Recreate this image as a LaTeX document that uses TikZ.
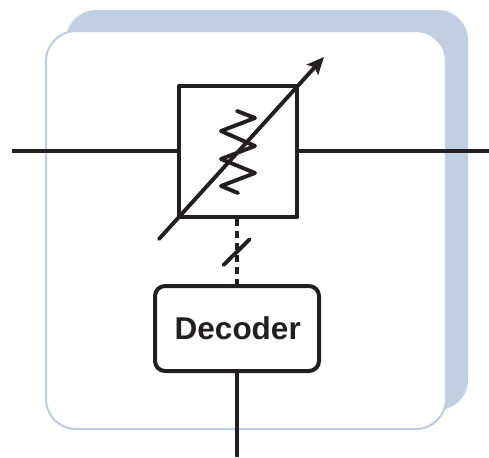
\documentclass[tikz,border=0pt]{standalone}
\usepackage{fontspec}
\setmainfont{Liberation Sans}
\usetikzlibrary{arrows.meta,positioning}
\definecolor{panelblue}{RGB}{192,208,226}
\definecolor{inkk}{RGB}{35,31,32}
\tikzset{
  wire/.style={draw=inkk,line width=3.9pt,line cap=butt},
  attbox/.style={draw=inkk,line width=4.2pt,minimum width=118pt,minimum height=131pt,inner sep=0pt,anchor=center,line join=round},
  decbox/.style={draw=inkk,line width=4pt,rounded corners=10pt,minimum width=164pt,minimum height=85pt,inner sep=0pt,text=inkk,font=\bfseries\fontsize{31.5}{34}\selectfont},
  shadowpanel/.style={fill=panelblue,rounded corners=30pt},
  frontpanel/.style={fill=white,draw=panelblue,line width=2.2pt,rounded corners=30pt},
}
\begin{document}
\begin{tikzpicture}[x=1pt,y=-1pt]
\useasboundingbox (0,0) rectangle (489,457);
\fill[shadowpanel] (66,10) rectangle (468,410);
\path[frontpanel] (46,31) rectangle (446,429);
\node[attbox] (att) at (238,151.5) {};
\node[decbox] (dec) at (237,328.5) {\hspace{1.5pt}Decoder};
\coordinate (inL) at (12,151);
\coordinate (outR) at (489,151);
\coordinate (ctl) at (237,457);
\coordinate (armS) at (159,239);
\coordinate (armE) at (324,57);
\coordinate (slashA) at (223.5,265);
\coordinate (slashB) at (249.5,239.5);
\draw[wire] (inL) -- (att.west |- inL);
\draw[wire] (att.east |- outR) -- (outR);
\draw[wire] (dec.south -| ctl) -- (ctl);
\draw[wire,dash pattern=on 7pt off 5pt] (att.south -| dec.north) -- (dec.north);
\draw[wire,line cap=round] (slashA) -- (slashB);
\draw[wire,line join=round,line cap=round] (237,111) -- (255,118) -- (221,131) -- (255,146) -- (221,159) -- (255,173) -- (221,186) -- (238,193);
\draw[wire,line cap=round,-{Stealth[length=17pt,width=15pt,inset=3pt]}] (armS) -- (armE);
\end{tikzpicture}
\end{document}
